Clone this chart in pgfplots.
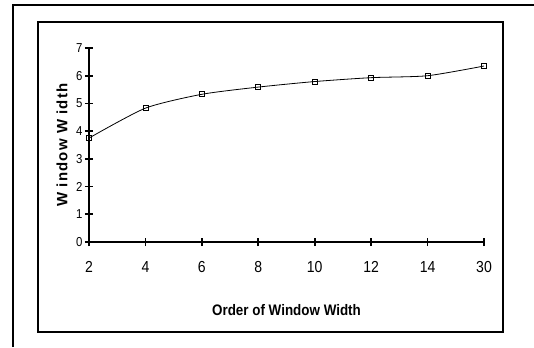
\documentclass[border=0pt]{standalone}
\usepackage{pgfplots}
\pgfplotsset{compat=1.18}
\usepackage{fontspec}
\setmainfont{Liberation Sans}
\newfontfamily\narrowfont{Liberation Sans}[FakeStretch=0.88]
\newfontfamily\spacedfont{Liberation Sans}[LetterSpace=8]
\begin{document}
\begin{tikzpicture}[x=1bp,y=1bp]
\useasboundingbox (-89,-105) rectangle (445,242);
\draw[line width=2bp] (-76,-105) -- (-76,237) -- (445,237);
\draw[line width=2bp] (-51,-90) rectangle (414,220);
\begin{axis}[
  at={(0,0)}, anchor=south west,
  scale only axis, width=395bp, height=194bp,
  xmin=0, xmax=7, ymin=0, ymax=7,
  axis x line=bottom, axis y line=left,
  axis line style={-, line width=1.6bp},
  xtick={0,...,7}, xticklabels={2,4,6,8,10,12,14,30},
  ytick={0,...,7},
  tick style={line width=1.6bp, black},
  major tick length=8bp,
  tick align=center,
  /pgf/number format/assume math mode=true,
  xticklabel style={font=\narrowfont\fontsize{16}{16}\selectfont, yshift=-12bp},
  yticklabel style={font=\narrowfont\fontsize{13}{13}\selectfont, xshift=1bp},
  xlabel={\narrowfont\bfseries\fontsize{15.3}{16}\selectfont Order of Window Width},
  xlabel style={at={(axis description cs:0.5,-0.35)}, anchor=center},
  ylabel={\spacedfont\bfseries\fontsize{15}{16}\selectfont W indow W idth},
  ylabel style={at={(axis description cs:-0.068,0.5)}, anchor=center},
  clip=false,
]
\addplot[black, line width=0.8bp, smooth, tension=0.4, mark=square, mark size=2.5bp,
  mark options={fill=white, line width=0.6bp, solid}]
  coordinates {(0,3.75) (1,4.83) (2,5.33) (3,5.59) (4,5.79) (5,5.93) (6,6.00) (7,6.35)};
\end{axis}
\end{tikzpicture}
\end{document}
